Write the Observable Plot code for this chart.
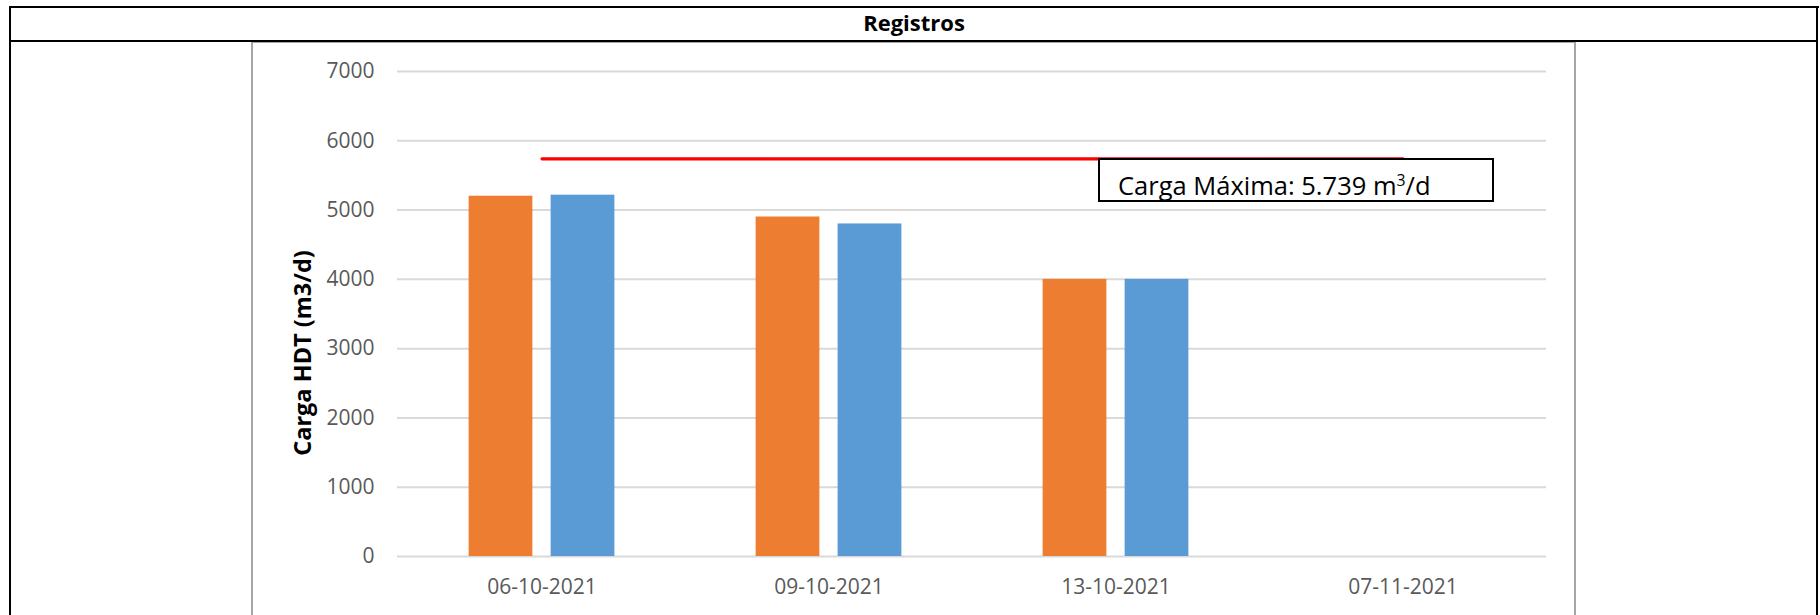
<!DOCTYPE html>
<html>
<head>
<meta charset="utf-8">
<script src="https://cdn.jsdelivr.net/npm/d3@7"></script>
<script src="https://cdn.jsdelivr.net/npm/@observablehq/plot@0.6"></script>
<style>
  html, body { margin: 0; padding: 0; background: #fff; }
  #wrap { position: relative; width: 1820px; height: 615px; overflow: hidden; font-family: "Open Sans", sans-serif; background: #fff; }
  .ln { position: absolute; }
  .blk { background: #000; }
  .gry { background: #a6a6a6; }
  #title { position: absolute; left: 10px; width: 1808px; top: 11px; line-height: 1; font-size: 22px; font-weight: bold; text-align: center; color: #000; }
  #chart { position: absolute; left: 0; top: 0; }
  #note { position: absolute; left: 1098px; top: 158px; width: 392px; height: 40px; border: 2px solid #000; background: #fff; }
  #note span { position: absolute; left: 18px; top: 13px; font-size: 25.5px; line-height: 1; color: #000; white-space: nowrap; }
  #note sup { font-size: 0.62em; vertical-align: 0.55em; line-height: 0; }
</style>
</head>
<body>
<div id="wrap">
  <div class="ln blk" style="left:9px;top:6px;width:1810px;height:2px"></div>
  <div class="ln blk" style="left:9px;top:6px;width:2px;height:620px"></div>
  <div class="ln blk" style="left:1816px;top:6px;width:2px;height:620px"></div>
  <div class="ln blk" style="left:9px;top:40px;width:1809px;height:2px"></div>
  <div class="ln gry" style="left:251px;top:42px;width:1.5px;height:580px"></div>
  <div class="ln gry" style="left:251px;top:42px;width:1325px;height:1px"></div>
  <div class="ln gry" style="left:1574px;top:42px;width:1.5px;height:580px"></div>
  <div id="title"></div>
  <div id="chart"></div>
  <div id="note"><span id="noteText"></span></div>
</div>
<script>
// ---- data ----
const tituloTabla = "Registros";
const fechas = ["06-10-2021", "09-10-2021", "13-10-2021", "07-11-2021"];
const serieNaranja = [5200, 4900, 4000, null];
const serieAzul = [5215, 4800, 4000, null];
const cargaMaxima = [5739, 5739, 5739, 5739];
const yTicks = [0, 1000, 2000, 3000, 4000, 5000, 6000, 7000];
const tituloY = "Carga HDT (m3/d)";
const notaPrefijo = "Carga Máxima: 5.739 m";
const notaSup = "3";
const notaSufijo = "/d";

// ---- layout ----
const W = 1820, H = 615;
const mL = 397, mR = 274, mT = 71, mB = 59;
const band = (W - mL - mR) / fechas.length;
const barW = 64, barGap = 18;
const outer = band / 2 - barGap / 2 - barW;
const inner = band - outer - barW;

const naranja = fechas.map((f, i) => ({fecha: f, v: serieNaranja[i]})).filter(d => d.v != null);
const azul = fechas.map((f, i) => ({fecha: f, v: serieAzul[i]})).filter(d => d.v != null);
const maxima = fechas.map((f, i) => ({fecha: f, v: cargaMaxima[i]}));

document.getElementById("title").textContent = tituloTabla;
const nt = document.getElementById("noteText");
nt.appendChild(document.createTextNode(notaPrefijo));
const sup = document.createElement("sup"); sup.textContent = notaSup; nt.appendChild(sup);
nt.appendChild(document.createTextNode(notaSufijo));

const chart = Plot.plot({
  width: W, height: H,
  marginLeft: mL, marginRight: mR, marginTop: mT, marginBottom: mB,
  style: {fontFamily: '"Open Sans", sans-serif', fontSize: "21px", color: "#595959", background: "transparent", overflow: "visible"},
  x: {type: "band", domain: fechas, padding: 0, label: null},
  y: {domain: [0, 7000], label: null},
  marks: [
    Plot.ruleY(yTicks, {stroke: "#d9d9d9", strokeWidth: 2}),
    Plot.barY(naranja, {x: "fecha", y: "v", fill: "#ED7D31", insetLeft: outer, insetRight: inner}),
    Plot.barY(azul, {x: "fecha", y: "v", fill: "#5B9BD5", insetLeft: inner, insetRight: outer}),
    Plot.lineY(maxima, {x: "fecha", y: "v", stroke: "#FF0000", strokeWidth: 3.2}),
    Plot.axisY({ticks: yTicks, tickFormat: d => String(d), tickSize: 0, tickPadding: 23, label: null}),
    Plot.axisX({tickSize: 0, tickPadding: 23, label: null}),
    Plot.text([tituloY], {text: d => d, frameAnchor: "left", textAnchor: "middle", lineAnchor: "middle", rotate: -90, dx: -94, dy: 39, fontWeight: "bold", fontSize: 23.5, fill: "#000"})
  ]
});
document.getElementById("chart").appendChild(chart);
</script>
</body>
</html>
